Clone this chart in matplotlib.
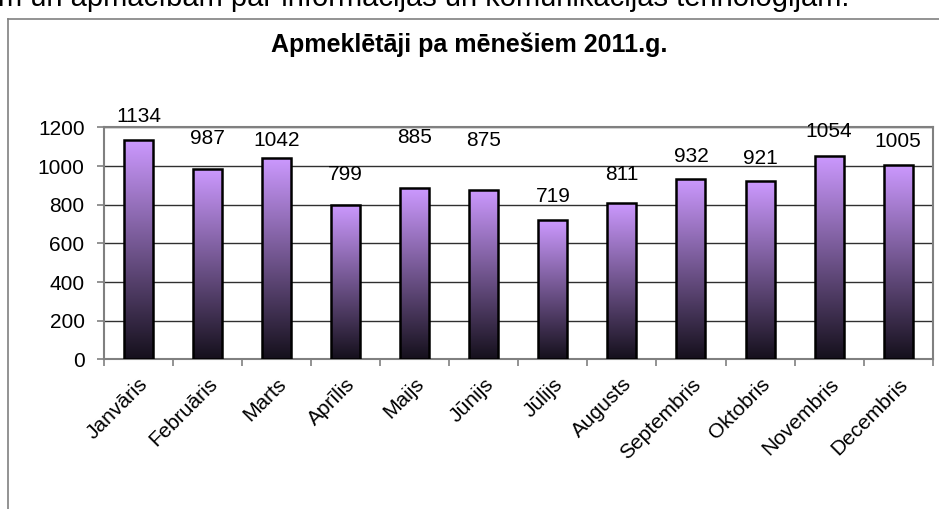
import numpy as np
import matplotlib
matplotlib.use("Agg")
import matplotlib.pyplot as plt
from matplotlib.lines import Line2D
from matplotlib.colors import LinearSegmentedColormap

plt.rcParams['font.family'] = ['Liberation Sans', 'DejaVu Sans']

# data
months = ['Janvāris', 'Februāris', 'Marts', 'Aprīlis', 'Maijs', 'Jūnijs',
          'Jūlijs', 'Augusts', 'Septembris', 'Oktobris', 'Novembris', 'Decembris']
visitors = [1134, 987, 1042, 799, 885, 875, 719, 811, 932, 921, 1054, 1005]
# label offset above bar top (pixels), labels were moved by hand in the original
label_offsets = [24, 30, 18, 30, 51, 50, 24, 28, 23, 23, 24, 24]

title = 'Apmeklētāji pa mēnešiem 2011.g.'
page_text = 'm un apmācībām par informācijas un komunikācijas tehnoloģijām.'

W, H = 939, 509
fig = plt.figure(figsize=(W/100, H/100), dpi=100)
fig.patch.set_facecolor('white')

# page text cut off at the top
fig.text(-2/W, 1-6/H, page_text, fontsize=21, ha='left', va='baseline', color='black')

# chart border (left + top)
fig.add_artist(Line2D([8/W, 8/W], [0, 1-19/H], transform=fig.transFigure, color='#808080', lw=1.2))
fig.add_artist(Line2D([8/W, 1], [1-19/H, 1-19/H], transform=fig.transFigure, color='#808080', lw=1.2))

fig.text(469/W, 1-45/H, title, fontsize=18, fontweight='bold', ha='center', va='center')

ax = fig.add_axes([104/W, 1-359.3/H, (932.7-104)/W, (359.3-127.5)/H])
x = np.arange(len(months))
bars = ax.bar(x, visitors, width=0.42, facecolor='none', edgecolor='black', linewidth=1.8, zorder=4)

cmap = LinearSegmentedColormap.from_list('lav', ['#15101c', '#cc99ff'])
grad = np.linspace(0, 1, 256).reshape(-1, 1)
for b in bars:
    x0, w, h = b.get_x(), b.get_width(), b.get_height()
    im = ax.imshow(grad, cmap=cmap, aspect='auto', origin='lower',
                   extent=[x0, x0+w, 0, h], zorder=3)
    im.set_clip_path(b)

for i, v in enumerate(visitors):
    ax.annotate(str(v), (x[i], v), xytext=(0, label_offsets[i]), textcoords='offset pixels',
                ha='center', va='center', fontsize=15)

ax.set_xlim(-0.5, len(months)-0.5)
ax.set_ylim(0, 1200)
ax.set_yticks(np.arange(0, 1201, 200))
ax.yaxis.grid(True, color='#303030', linewidth=1.0)
ax.set_axisbelow(True)

ax.set_xticks(x)
ax.set_xticklabels(months, rotation=45, ha='right', rotation_mode='anchor', fontsize=15)
ax.set_xticks(np.arange(-0.5, len(months)), minor=True)
ax.tick_params(axis='x', which='major', length=0, pad=11)
ax.tick_params(axis='x', which='minor', length=5, color='#808080', width=1.2)
ax.tick_params(axis='y', length=5, color='#808080', width=1.2, pad=9, labelsize=15)

for s in ax.spines.values():
    s.set_color('#808080')
    s.set_linewidth(1.5)

fig.savefig('out.png', dpi=100)
